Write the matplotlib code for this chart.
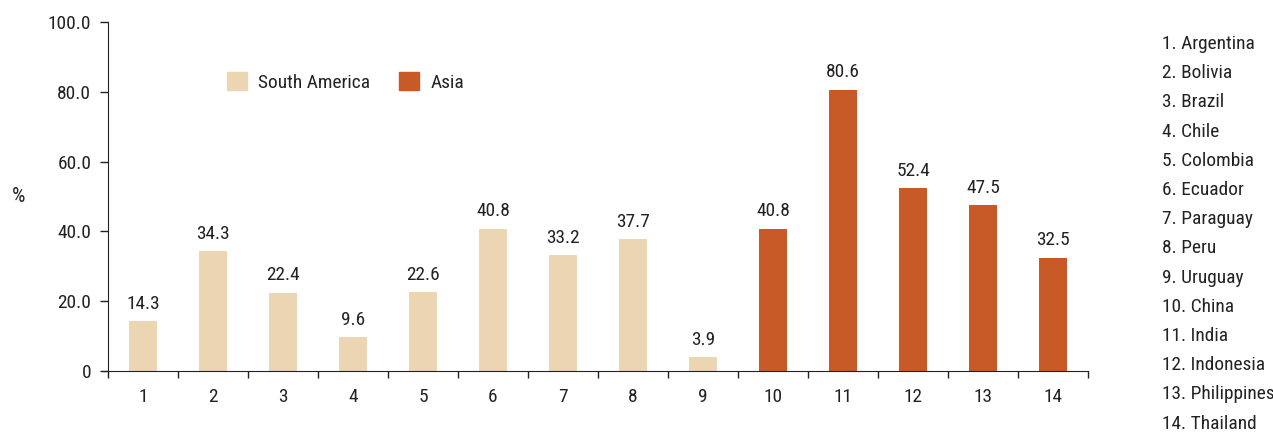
import matplotlib
matplotlib.use("Agg")
import matplotlib.pyplot as plt
from matplotlib.patches import Patch
from matplotlib import font_manager as fm
from matplotlib.textpath import TextPath

names = {f.name for f in fm.fontManager.ttflist}
preferred = ["Liberation Sans Narrow", "Roboto Condensed", "Arial Narrow", "Noto Sans Condensed",
             "Open Sans Condensed", "Lato Condensed", "Inter Condensed"]
fam = next((n for n in preferred if n in names), None)
if fam is None:
    others = sorted(n for n in names if ("Narrow" in n or "Condensed" in n)
                    and "DejaVu" not in n and "Mono" not in n and "Serif" not in n
                    and "Bold" not in n and "Light" not in n)
    if others:
        fam = others[0]
    elif "DejaVu Sans Condensed" in names:
        fam = "DejaVu Sans Condensed"
    else:
        fam = "Roboto" if "Roboto" in names else "DejaVu Sans"
plt.rcParams['font.family'] = [fam, 'DejaVu Sans']

categories = ["1", "2", "3", "4", "5", "6", "7", "8", "9", "10", "11", "12", "13", "14"]
countries = ["Argentina", "Bolivia", "Brazil", "Chile", "Colombia", "Ecuador", "Paraguay",
             "Peru", "Uruguay", "China", "India", "Indonesia", "Philippines", "Thailand"]
values = [14.3, 34.3, 22.4, 9.6, 22.6, 40.8, 33.2, 37.7, 3.9, 40.8, 80.6, 52.4, 47.5, 32.5]
regions = ["South America"] * 9 + ["Asia"] * 5
yticks = [0, 20, 40, 60, 80, 100]
yticklabels = ["0", "20.0", "40.0", "60.0", "80.0", "100.0"]

colors = {"South America": "#EBD5B3", "Asia": "#C85A28"}
text_color = "#222222"

# font size chosen so that "South America" spans ~110 px as in the reference
w1 = TextPath((0, 0), "South America", size=1,
              prop=fm.FontProperties(family=fam)).get_extents().width
fs = min(14.5, (110 * 0.72) / w1)
fs_px = fs * 100 / 72

W, H = 1273, 433
fig = plt.figure(figsize=(W / 100, H / 100), dpi=100)
ax = fig.add_axes([108 / W, 1 - 371 / H, (1088 - 108) / W, (371 - 22) / H])

x = list(range(len(categories)))
ax.bar(x, values, width=0.41, color=[colors[r] for r in regions], zorder=2)
for xi, v in zip(x, values):
    ax.text(xi, v + 2.4, f"{v:.1f}", ha="center", va="bottom", fontsize=fs, color=text_color)

ax.set_xlim(-0.5, len(categories) - 0.5)
ax.set_ylim(0, 100)
ax.set_yticks(yticks)
ax.set_yticklabels(yticklabels, fontsize=fs, color=text_color)
ax.set_xticks(x)
ax.set_xticklabels(categories, fontsize=fs, color=text_color)
ax.tick_params(axis="x", length=0, pad=12)
ax.set_xticks([i - 0.5 for i in range(len(categories) + 1)], minor=True)
ax.tick_params(axis="x", which="minor", length=5, width=1, direction="out", color="#222222")
ax.tick_params(axis="y", length=6, width=1, direction="out", color="#222222", pad=6)
for s in ["top", "right"]:
    ax.spines[s].set_visible(False)
ax.spines["left"].set_color("#222222")
ax.spines["bottom"].set_color("#222222")
ax.spines["bottom"].set_bounds(-0.58, len(categories) - 0.5)
ax.spines["bottom"].set_clip_on(False)

fig.text(12 / W, 1 - 197 / H, "%", fontsize=fs * 1.1, color=text_color, ha="left", va="center")

handles = [Patch(color=colors["South America"], label="South America"),
           Patch(color=colors["Asia"], label="Asia")]
fig.legend(handles=handles, loc="center left", bbox_to_anchor=(227 / W, 1 - 82 / H),
           ncol=2, frameon=False, fontsize=fs, borderpad=0, borderaxespad=0,
           handlelength=20 / fs_px, handleheight=20 / fs_px,
           handletextpad=11 / fs_px, columnspacing=29 / fs_px, labelcolor=text_color)

y0, dy = 44, 29.2
for i, (c, n) in enumerate(zip(categories, countries)):
    fig.text(1162 / W, 1 - (y0 + i * dy) / H, f"{c}. {n}", fontsize=fs,
             color=text_color, ha="left", va="center")

fig.savefig("out.png", dpi=100)
